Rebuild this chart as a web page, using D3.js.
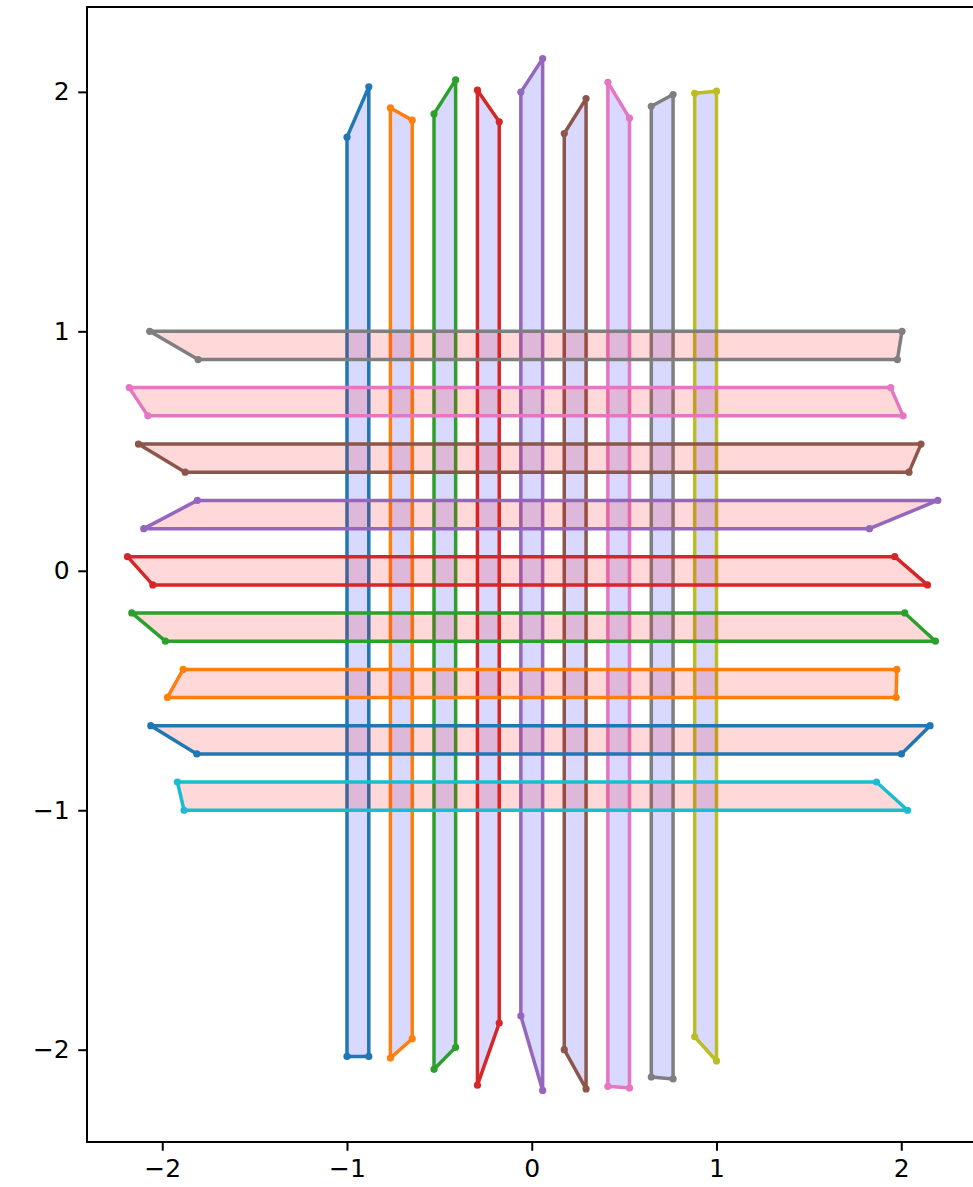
<!DOCTYPE html>
<html>
<head>
<meta charset="utf-8">
<script src="https://cdn.jsdelivr.net/npm/d3@7"></script>
<style>
  html, body { margin: 0; padding: 0; background: #fff; }
  svg { display: block; }
</style>
</head>
<body>
<svg id="chart" width="973" height="1187"></svg>
<script>
// ---- Data ----
const colors = ["#1f77b4","#ff7f0e","#2ca02c","#d62728","#9467bd","#8c564b","#e377c2","#7f7f7f","#bcbd22","#17becf"];

// Vertical strips (left to right)
const vLeft      = [-1.000, -0.765, -0.529, -0.294, -0.059, 0.176, 0.412, 0.647, 0.882];
const vRight     = [-0.882, -0.647, -0.412, -0.176,  0.059, 0.294, 0.529, 0.765, 1.000];
const vTopLeft   = [1.811, 1.933, 1.908, 2.007, 1.999, 1.826, 2.040, 1.940, 1.994];
const vTopRight  = [2.021, 1.882, 2.050, 1.875, 2.139, 1.972, 1.890, 1.989, 2.003];
const vBotRight  = [-2.028, -1.954, -1.990, -1.889, -2.170, -2.164, -2.160, -2.122, -2.047];
const vBotLeft   = [-2.028, -2.035, -2.082, -2.148, -1.859, -2.000, -2.153, -2.114, -1.946];
const vColorIdx  = [0, 1, 2, 3, 4, 5, 6, 7, 8];

// Horizontal strips (bottom to top)
const hBottom    = [-1.000, -0.765, -0.529, -0.294, -0.059, 0.176, 0.412, 0.647, 0.882];
const hTop       = [-0.882, -0.647, -0.412, -0.176,  0.059, 0.294, 0.529, 0.765, 1.000];
const hTopLeft   = [-1.918, -2.062, -1.887, -2.165, -2.188, -1.810, -2.129, -2.179, -2.068];
const hTopRight  = [1.866, 2.156, 1.976, 2.019, 1.965, 2.198, 2.107, 1.943, 2.004];
const hBotRight  = [2.034, 2.001, 1.972, 2.185, 2.142, 1.828, 2.042, 2.010, 1.979];
const hBotLeft   = [-1.882, -1.813, -1.972, -1.983, -2.051, -2.100, -1.876, -2.078, -1.806];
const hColorIdx  = [9, 0, 1, 2, 3, 4, 5, 6, 7];

const xTicks = [-2, -1, 0, 1, 2];
const yTicks = [-2, -1, 0, 1, 2];

// ---- Build polygons ----
const vPolys = vLeft.map((xl, i) => ({
  color: colors[vColorIdx[i]],
  pts: [[xl, vTopLeft[i]], [vRight[i], vTopRight[i]], [vRight[i], vBotRight[i]], [xl, vBotLeft[i]]]
}));
const hPolys = hBottom.map((yb, i) => ({
  color: colors[hColorIdx[i]],
  pts: [[hTopLeft[i], hTop[i]], [hTopRight[i], hTop[i]], [hBotRight[i], yb], [hBotLeft[i], yb]]
}));

// ---- Limits with 5% margins (matplotlib style) ----
const allPts = vPolys.concat(hPolys).flatMap(p => p.pts);
const [xmin, xmax] = d3.extent(allPts, d => d[0]);
const [ymin, ymax] = d3.extent(allPts, d => d[1]);
const xm = (xmax - xmin) * 0.05, ym = (ymax - ymin) * 0.05;

const L = 87, T = 7, B = 1142;
const unitX = 184.75;
const R = L + (xmax - xmin + 2 * xm) * unitX;
const x = d3.scaleLinear().domain([xmin - xm, xmax + xm]).range([L, R]);
const y = d3.scaleLinear().domain([ymin - ym, ymax + ym]).range([B, T]);

const svg = d3.select("#chart");
svg.append("defs").append("clipPath").attr("id", "clip")
  .append("rect").attr("x", L).attr("y", T).attr("width", R - L).attr("height", B - T);

const plot = svg.append("g").attr("clip-path", "url(#clip)");
const line = d3.line().x(d => x(d[0])).y(d => y(d[1]));

function drawPoly(p, fill) {
  const closed = p.pts.concat([p.pts[0]]);
  plot.append("path")
    .attr("d", line(closed))
    .attr("fill", fill)
    .attr("fill-opacity", 0.15)
    .attr("stroke", "none");
  plot.append("path")
    .attr("d", line(closed))
    .attr("fill", "none")
    .attr("stroke", p.color)
    .attr("stroke-width", 3.5)
    .attr("stroke-linejoin", "round")
    .attr("stroke-linecap", "butt");
  plot.selectAll(null).data(p.pts).enter().append("circle")
    .attr("cx", d => x(d[0])).attr("cy", d => y(d[1]))
    .attr("r", 3.6).attr("fill", p.color);
}
vPolys.forEach(p => drawPoly(p, "blue"));
hPolys.forEach(p => drawPoly(p, "red"));

// ---- Axes ----
const font = "'DejaVu Sans', sans-serif";
const xAxis = d3.axisBottom(x).tickValues(xTicks).tickSize(8.75).tickPadding(8.5)
  .tickFormat(d3.format("d"));
const yAxis = d3.axisLeft(y).tickValues(yTicks).tickSize(8.75).tickPadding(8.5)
  .tickFormat(d3.format("d"));

const gx = svg.append("g").attr("transform", `translate(0,${B})`).call(xAxis);
const gy = svg.append("g").attr("transform", `translate(${L},0)`).call(yAxis);
[gx, gy].forEach(g => {
  g.select(".domain").remove();
  g.selectAll(".tick line").attr("stroke", "#000").attr("stroke-width", 2);
  g.selectAll(".tick text").attr("font-family", font).attr("font-size", 25).attr("fill", "#000");
});

// spines
const sp = svg.append("g").attr("stroke", "#000").attr("stroke-width", 2).attr("fill", "none");
sp.append("rect").attr("x", L).attr("y", T).attr("width", R - L).attr("height", B - T);
</script>
</body>
</html>
